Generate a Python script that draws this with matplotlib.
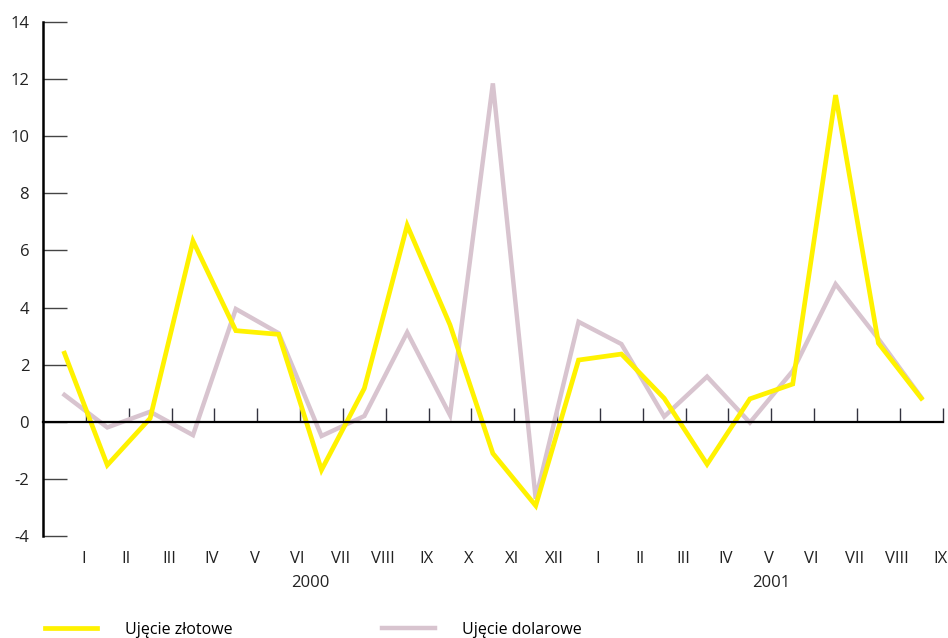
import matplotlib.pyplot as plt
import matplotlib.transforms as mtransforms
import numpy as np

plt.rcParams['font.family'] = ['Open Sans', 'DejaVu Sans']
plt.rcParams['axes.unicode_minus'] = False

months = ['I', 'II', 'III', 'IV', 'V', 'VI', 'VII', 'VIII', 'IX', 'X', 'XI', 'XII',
          'I', 'II', 'III', 'IV', 'V', 'VI', 'VII', 'VIII', 'IX']
years = ['2000', '2001']

zlotowe = [2.40, -1.52, 0.12, 6.33, 3.19, 3.06, -1.69, 1.17, 6.88, 3.39, -1.11,
           -2.94, 2.16, 2.37, 0.82, -1.49, 0.80, 1.32, 11.44, 2.75, 0.82]
dolarowe = [0.94, -0.20, 0.35, -0.47, 3.95, 3.10, -0.50, 0.20, 3.13, 0.23, 11.85,
            -2.70, 3.50, 2.72, 0.18, 1.58, -0.03, 1.78, 4.82, 2.90, 0.85]

yellow = '#fff200'
grey = '#d8c4cf'

fig = plt.figure(figsize=(9.48, 6.38), dpi=100)
ax = fig.add_axes([0.0454, 0.16, 0.9490, 0.8055])

x = np.arange(len(months)) + 0.5
l2, = ax.plot(x, dolarowe, color=grey, lw=3.2, solid_joinstyle='miter', label='Ujęcie dolarowe')
l1, = ax.plot(x, zlotowe, color=yellow, lw=3.4, solid_joinstyle='miter', label='Ujęcie złotowe')

ax.set_xlim(0, len(months))
ax.set_ylim(-4, 14)

for s in ['top', 'right']:
    ax.spines[s].set_visible(False)
ax.spines['bottom'].set_position(('data', 0))
ax.spines['bottom'].set_linewidth(1.6)
ax.spines['left'].set_linewidth(1.8)

ax.set_yticks(np.arange(-4, 15, 2))
ax.tick_params(axis='y', direction='in', length=17, width=1.0, color='#444444',
               labelsize=12, pad=10, labelcolor='#222222')
ax.set_xticks(np.arange(1, len(months) + 1))
ax.tick_params(axis='x', direction='in', length=10, width=1.0, color='#333340',
               labelbottom=False)

# month labels sit under the plot, slightly left of each tick
trans = mtransforms.blended_transform_factory(ax.transData, ax.transAxes)
for i, m in enumerate(months):
    ax.text(i + 1 - 0.06, -0.045, m, transform=trans, ha='center', va='center',
            fontsize=12, color='#222222')
ax.text(6.25, -0.092, years[0], transform=trans, ha='center', va='center',
        fontsize=12, color='#222222')
ax.text(17.0, -0.092, years[1], transform=trans, ha='center', va='center',
        fontsize=12, color='#222222')

fig.legend(handles=[l1, l2], loc='lower left', bbox_to_anchor=(0.032, -0.022),
           ncol=2, frameon=False, fontsize=11.5, handlelength=3.3,
           handletextpad=1.7, columnspacing=9.4)

fig.savefig('out.png', dpi=100)
